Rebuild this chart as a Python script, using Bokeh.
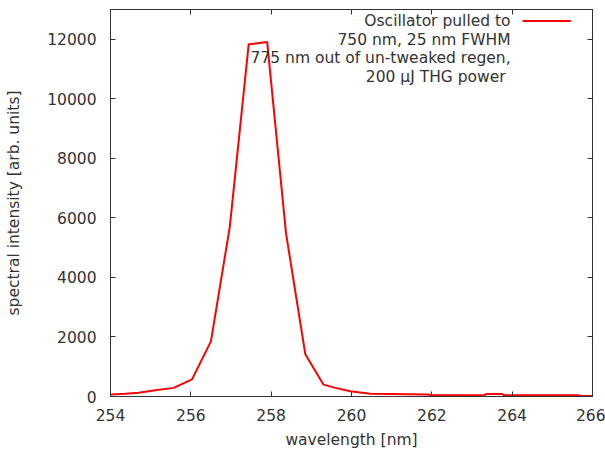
from bokeh.plotting import figure
from bokeh.models import Range1d, LinearAxis, SingleIntervalTicker, Label, Arrow
from bokeh.embed import file_html
from bokeh.resources import INLINE

wavelength = [254.0, 254.37, 254.7, 255.07, 255.57, 256.03, 256.5, 256.97, 257.44, 257.9,
              258.37, 258.85, 259.3, 259.6, 259.97, 260.47, 261.9, 262.0, 263.3, 263.35,
              263.75, 263.8, 265.65, 265.7, 266.0]
intensity = [65, 90, 125, 200, 290, 575, 1850, 5700, 11830, 11910,
             5480, 1420, 400, 290, 175, 90, 65, 40, 40, 80,
             80, 40, 40, 15, 15]

x_ticks = [254, 256, 258, 260, 262, 264, 266]
y_ticks = [0, 2000, 4000, 6000, 8000, 10000, 12000]

legend_lines = ["Oscillator pulled to", "750 nm, 25 nm FWHM",
                "775 nm out of un-tweaked regen,", "200  \u00b5J THG power"]
x_label = "wavelength [nm]"
y_label = "spectral intensity [arb. units]"

FONT = "DejaVu Sans"
FS = "15.5px"
TXT = "#333333"

p = figure(width=605, height=451, output_backend="svg", toolbar_location=None,
           x_range=Range1d(254, 266), y_range=Range1d(0, 13000),
           min_border_left=110, min_border_right=13, min_border_top=9,
           min_border_bottom=55)
p.background_fill_color = "white"
p.border_fill_color = "white"
p.xgrid.grid_line_color = None
p.ygrid.grid_line_color = None
p.outline_line_color = "#333333"
p.outline_line_width = 1

p.line(wavelength, intensity, line_color="#ff0000", line_width=2)

for ax in p.xaxis:
    ax.ticker = SingleIntervalTicker(interval=2, num_minor_ticks=0)
for ax in p.yaxis:
    ax.ticker = SingleIntervalTicker(interval=2000, num_minor_ticks=0)

def style(ax, labels=True, ticks=None):
    ax.major_tick_in = 5
    ax.major_tick_out = 0
    ax.minor_tick_in = 0
    ax.minor_tick_out = 0
    ax.axis_line_color = "#333333"
    ax.major_tick_line_color = "#333333"
    ax.major_label_text_font = FONT
    ax.major_label_text_color = TXT
    ax.axis_label_text_font = FONT
    ax.axis_label_text_color = TXT
    ax.axis_label_text_font_style = "normal"
    ax.axis_label_text_font_size = FS
    ax.major_label_text_font_size = FS
    if not labels:
        ax.major_label_overrides = {t: "" for t in ticks}
        ax.major_label_standoff = 0

style(p.xaxis[0])
style(p.yaxis[0])
p.xaxis[0].axis_label = x_label
p.yaxis[0].axis_label = y_label
p.xaxis[0].major_label_standoff = 12
p.xaxis[0].axis_label_standoff = 7
p.yaxis[0].major_label_standoff = 14
p.yaxis[0].axis_label_standoff = 21

ra = LinearAxis(ticker=SingleIntervalTicker(interval=2000, num_minor_ticks=0))
ta = LinearAxis(ticker=SingleIntervalTicker(interval=2, num_minor_ticks=0))
style(ra, labels=False, ticks=y_ticks)
style(ta, labels=False, ticks=x_ticks)
p.add_layout(ra, "right")
p.add_layout(ta, "above")

# legend (gnuplot style: text right-aligned, sample line to the right)
leg_x = 263.96
leg_y = [12614, 11992, 11371, 10749]
for txt, yy in zip(legend_lines, leg_y):
    p.add_layout(Label(x=leg_x, y=yy, text=txt, text_align="right",
                       text_baseline="middle", text_font=FONT,
                       text_font_size=FS, text_color=TXT))
p.add_layout(Arrow(start=None, end=None, x_start=264.26, y_start=leg_y[0],
                   x_end=265.46, y_end=leg_y[0], line_color="#ff0000", line_width=2))

open("out.html", "w").write(file_html(p, INLINE))
